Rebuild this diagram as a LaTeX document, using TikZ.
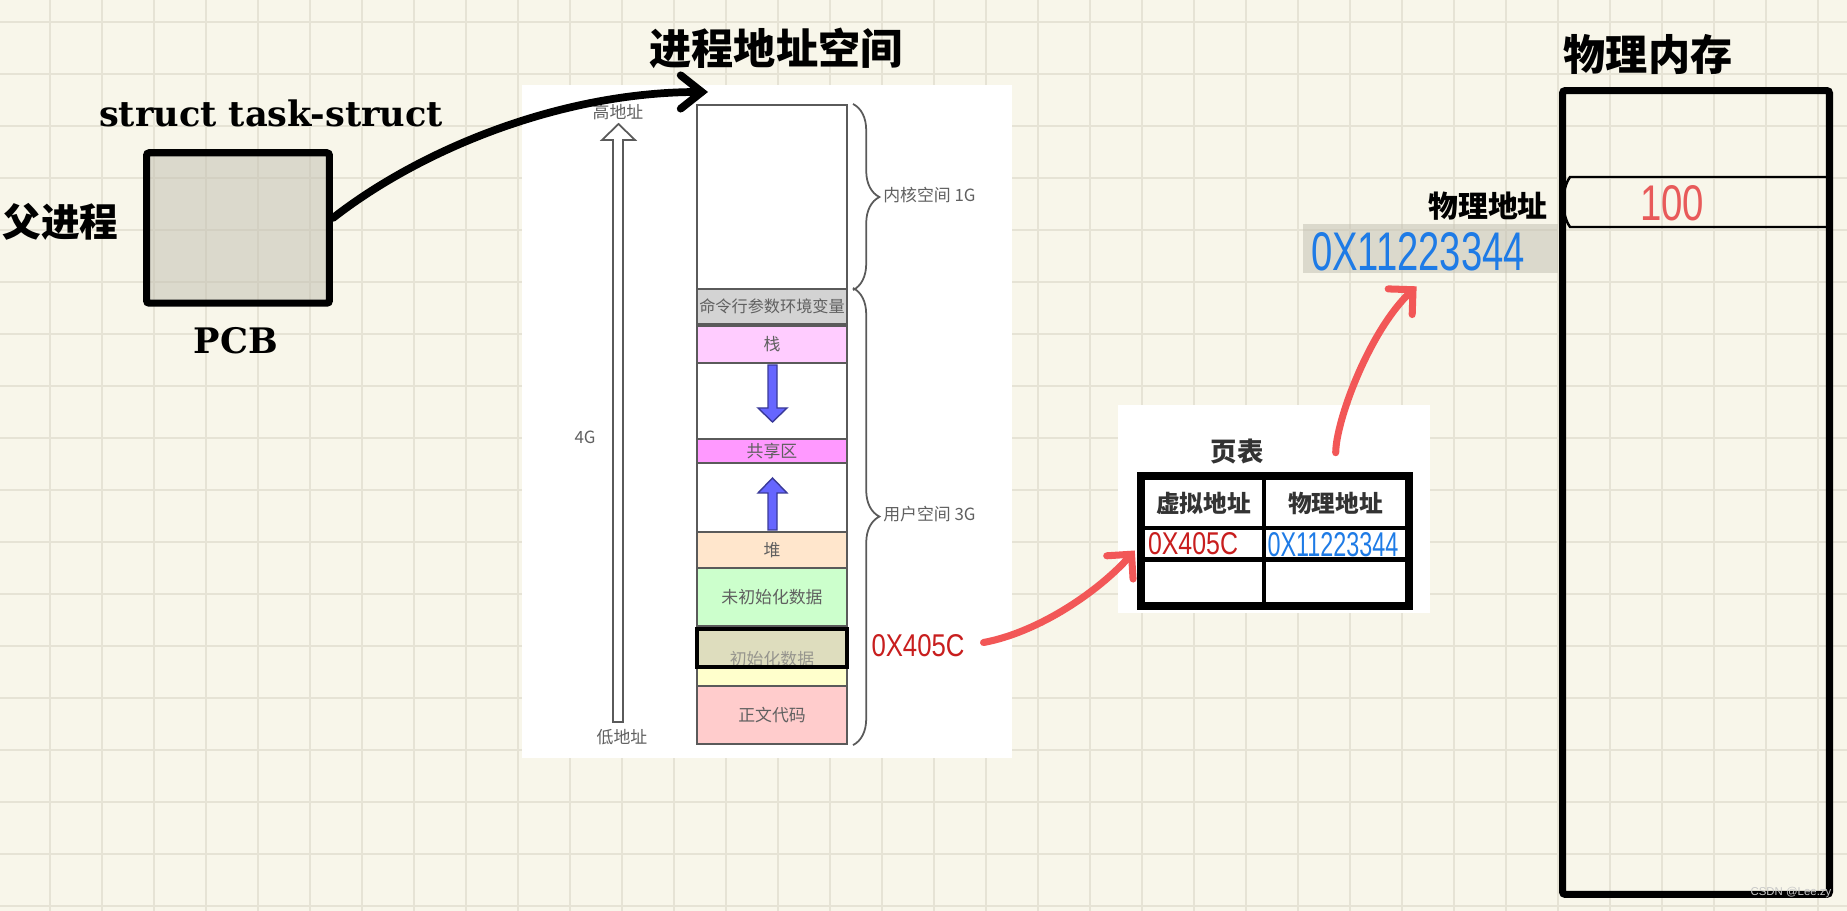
\documentclass[tikz,border=0pt]{standalone}
\usepackage{fontspec}
\newfontfamily\cjk{Noto Sans CJK SC}
\newfontfamily\slab{DejaVu Serif}
\newfontfamily\hand{Liberation Sans}
\usetikzlibrary{arrows.meta,decorations.pathreplacing}

\definecolor{paper}{HTML}{F8F6EA}
\definecolor{gridcol}{HTML}{E6E3D5}
\definecolor{tintgray}{HTML}{C4C2B4}
\definecolor{segline}{HTML}{5A5A5A}
\definecolor{segtext}{HTML}{606060}
\definecolor{argsgray}{HTML}{D3D3D3}
\definecolor{stackpink}{HTML}{FFCCFF}
\definecolor{sharedpink}{HTML}{FF99FF}
\definecolor{heappeach}{HTML}{FFE6CC}
\definecolor{bssgreen}{HTML}{CCFFCC}
\definecolor{datayellow}{HTML}{FFFFCC}
\definecolor{textpink}{HTML}{FFCCCC}
\definecolor{growblue}{HTML}{6666FF}
\definecolor{growline}{HTML}{3A3A99}
\definecolor{arrowred}{HTML}{F25757}
\definecolor{addrred}{HTML}{C81E1E}
\definecolor{addrblue}{HTML}{1E7BE6}
\definecolor{valred}{HTML}{E85A5A}
\definecolor{tabink}{HTML}{333333}
\definecolor{wmgray}{HTML}{C8C8C8}

\newlength\hwpx
\setlength\hwpx{0.02cm}
% handwritten address, stretched to w x h pixels
\newcommand\handtext[3]{\resizebox{#1\hwpx}{#2\hwpx}{\hand #3}}

\begin{document}
\begin{tikzpicture}[x=0.02cm, y=-0.02cm,
    every node/.style={inner sep=0pt},
    gridline/.style={draw=gridcol, line width=1.1pt},
    panel/.style={fill=white, anchor=north west},
    heading/.style={font=\cjk\bfseries\fontsize{24}{26}\selectfont},
    slabtext/.style={font=\slab\bfseries\fontsize{20}{22}\selectfont},
    seg/.style={draw=segline, line width=1.2pt, minimum width=3cm, anchor=north, text=segtext, font=\cjk\fontsize{9.6}{10}\selectfont},
    sidetext/.style={text=segtext, font=\cjk\fontsize{9.6}{10}\selectfont},
    spanbrace/.style={draw=segline, line width=1pt, decorate, decoration={brace, amplitude=15pt}},
    growarrow/.style={fill=growblue, draw=growline, line width=0.8pt},
    tintfill/.style={fill=tintgray, fill opacity=0.55},
    cell/.style={draw=black, line width=2.6pt, fill=white, text=tabink, font=\cjk\bfseries\fontsize{13.5}{15}\selectfont},
    blackpen/.style={draw=black, line width=4.4pt, line cap=round, -{Straight Barb[length=12pt, width=19pt, line cap=round]}},
    redpen/.style={draw=arrowred, line width=4pt, line cap=round, -{Straight Barb[length=10pt, width=20pt, line cap=round]}}]

    % Nền giấy kẻ ô
    \useasboundingbox (0,0) rectangle (1847,911);
    \fill[paper] (0,0) rectangle (1847,911);
    \foreach \gx in {-2,50,...,1846} \draw[gridline] (\gx,0) -- (\gx,911);
    \foreach \gy in {22,74,...,910} \draw[gridline] (0,\gy) -- (1847,\gy);

    % Các nền trắng
    \node[panel, minimum width=9.8cm, minimum height=13.46cm] (vspanel) at (522,85) {};
    \node[panel, minimum width=6.24cm, minimum height=4.16cm] (ptpanel) at (1118,405) {};

    % PCB
    \node[anchor=west, font=\cjk\bfseries\fontsize{22}{24}\selectfont] (parent) at (2,222) {父进程};
    \node[draw=black, line width=4pt, tintfill, rounded corners=1.5pt, minimum width=3.66cm, minimum height=3.01cm] (pcb) at (238,228) {};
    \node[slabtext] (pcbtype) at (271,113) {struct task-struct};
    \node[slabtext] (pcbname) at (236,341) {PCB};

    % Không gian địa chỉ tiến trình
    \node[heading] (vstitle) at (776,48) {进程地址空间};
    \node[seg, fill=white, minimum height=3.68cm] (kernel) at (772,104) {};
    \node[seg, fill=argsgray, minimum height=0.7cm, font=\cjk\fontsize{9.2}{10}\selectfont] (args) at (772,288) {命令行参数环境变量};
    \node[seg, fill=stackpink, minimum height=0.74cm] (stack) at (772,325) {栈};
    \node[seg, fill=white, minimum height=1.52cm] (stackgap) at (772,362) {};
    \node[seg, fill=sharedpink, minimum height=0.48cm] (shared) at (772,438) {共享区};
    \node[seg, fill=white, minimum height=1.38cm] (heapgap) at (772,462) {};
    \node[seg, fill=heappeach, minimum height=0.72cm] (heap) at (772,531) {堆};
    \node[seg, fill=bssgreen, minimum height=1.16cm] (bss) at (772,567) {未初始化数据};
    \node[seg, fill=datayellow, minimum height=1.2cm] (data) at (772,625) {};
    \node[sidetext] (datalbl) at (772,659) {初始化数据};
    \node[seg, fill=textpink, minimum height=1.16cm] (code) at (772,685) {正文代码};
    \node[seg, draw=black, line width=2pt, tintfill, minimum height=0.76cm] (datamark) at (772,627) {};

    % Mũi tên tăng trưởng
    \filldraw[growarrow] (768,365) -- (777,365) -- (777,408) -- (787,408) -- (772.5,422) -- (758,408) -- (768,408) -- cycle;
    \filldraw[growarrow] (768,530) -- (777,530) -- (777,493) -- (787,493) -- (772.5,478) -- (758,493) -- (768,493) -- cycle;

    % Trục 4G
    \filldraw[fill=white, draw=segline, line width=1pt] (613,722) -- (613,140) -- (602,140) -- (618.5,124) -- (635,140) -- (623,140) -- (623,722) -- cycle;
    \node[sidetext] (hiaddr) at (618,112) {高地址};
    \node[sidetext] (size) at (585,437) {4G};
    \node[sidetext] (loaddr) at (622,737) {低地址};

    % Ngoặc nhọn
    \draw[spanbrace] ([xshift=0.1cm]kernel.north east) -- ([xshift=0.1cm]kernel.south east);
    \draw[spanbrace] ([xshift=0.1cm]args.north east) -- ([xshift=0.1cm]code.south east);
    \node[sidetext, anchor=west] (kernlbl) at (883,195) {内核空间 1G};
    \node[sidetext, anchor=west] (userlbl) at (883,514) {用户空间 3G};

    % Bảng trang
    \node[text=tabink, font=\cjk\bfseries\fontsize{15}{16}\selectfont] (pttitle) at (1237,452) {页表};
    \node[cell, minimum width=2.42cm, minimum height=1cm] (hdrva) at (1203.5,503) {虚拟地址};
    \node[cell, minimum width=2.86cm, minimum height=1cm] (hdrpa) at (1335.5,503) {物理地址};
    \node[cell, minimum width=2.42cm, minimum height=0.63cm] (rowva) at (1203.5,543.75) {};
    \node[cell, minimum width=2.86cm, minimum height=0.63cm] (rowpa) at (1335.5,543.75) {};
    \node[cell, minimum width=2.42cm, minimum height=0.89cm] (nilva) at (1203.5,581.75) {};
    \node[cell, minimum width=2.86cm, minimum height=0.89cm] (nilpa) at (1335.5,581.75) {};
    \draw[line width=4.5pt] (hdrva.north west) rectangle (nilpa.south east);
    \node[text=addrred] (vaval) at (1193,544) {\handtext{90}{22}{0X405C}};
    \node[text=addrblue] (paval) at (1333,545) {\handtext{131}{24}{0X11223344}};

    % Bộ nhớ vật lý
    \node[heading] (pmtitle) at (1648,55) {物理内存};
    \node[font=\cjk\bfseries\fontsize{17}{18}\selectfont] (palabel) at (1488,206) {物理地址};
    \node[tintfill, minimum width=5.1cm, minimum height=0.98cm] (paddr) at (1430.5,248.5) {};
    \node[text=addrblue] (paddrval) at (1418,252) {\handtext{214}{38}{0X11223344}};
    \draw[line width=1.4pt] (1828,177) -- (1570,177) .. controls (1561,190) and (1561,214) .. (1570,227) -- (1828,227);
    \node[text=valred] (pmval) at (1672,203) {\handtext{64}{35}{100}};
    \node[draw=black, line width=4pt, rounded corners=1.5pt, minimum width=5.34cm, minimum height=16.08cm] (physmem) at (1696,492.5) {};

    % Địa chỉ ảo
    \node[text=addrred] (vaddr) at (918,646) {\handtext{93}{22}{0X405C}};

    % Các mũi tên
    \coordinate (vsentry) at (708,92);
    \draw[blackpen] ([yshift=0.2cm]pcb.east) .. controls (420,150) and (560,92) .. (vsentry);
    \draw[redpen, shorten <=0.38cm, shorten >=0.18cm] (vaddr.east) .. controls (1040,632) and (1100,590) .. (rowva.west);
    \draw[redpen, shorten <=0.46cm, shorten >=0.38cm] (hdrpa.north) .. controls (1336,420) and (1370,330) .. (paddr.south);

    \node[text=wmgray, font=\hand\fontsize{6.5}{7}\selectfont] (wm) at (1791,893) {CSDN @Lee.zy};
\end{tikzpicture}
\end{document}
